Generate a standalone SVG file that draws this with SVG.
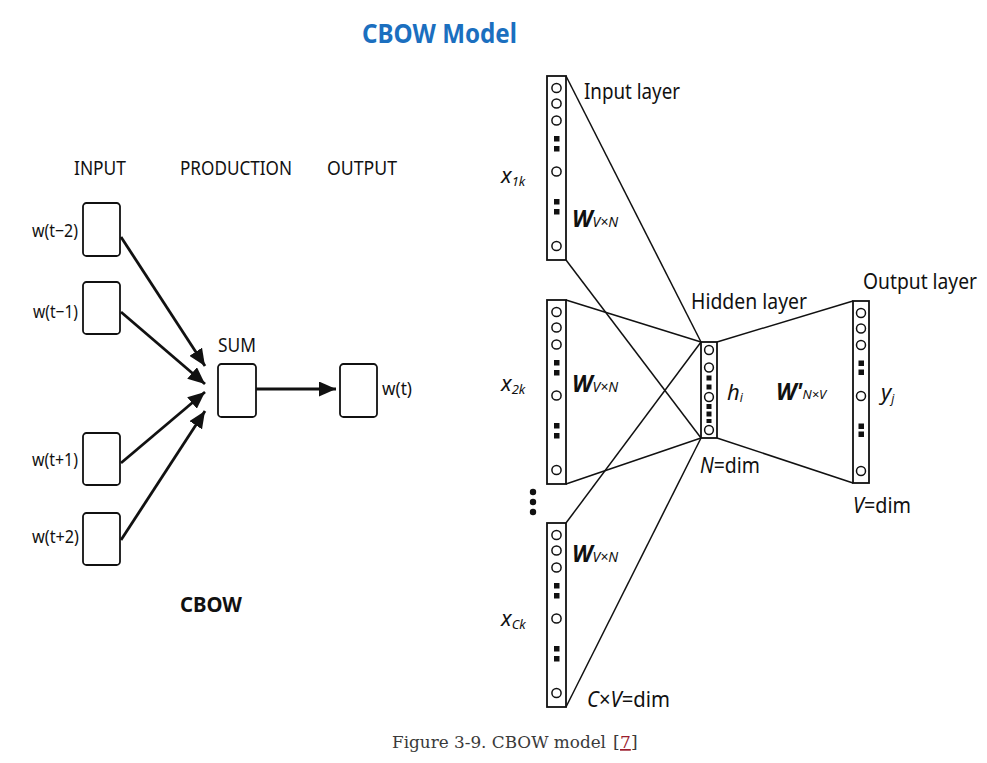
<svg xmlns="http://www.w3.org/2000/svg" width="987" height="763" viewBox="0 0 987 763">
<defs>
<style>
.t{font-family:"Noto Sans","Open Sans","DejaVu Sans",sans-serif;fill:#111}
.box{fill:#fff;stroke:#111;stroke-width:1.8}
.col{fill:#fff;stroke:#111;stroke-width:1.8}
.cir{fill:#fff;stroke:#111;stroke-width:1.5}
.sq{fill:#111}
.arr{stroke:#111;stroke-width:2.8;fill:none;marker-end:url(#ah)}
.ln{stroke:#111;stroke-width:1.5;fill:none}
.it{font-style:italic}
.cap{font-family:"DejaVu Serif","Liberation Serif",serif;font-size:17px;fill:#3a3a3a}
</style>
<marker id="ah" markerUnits="userSpaceOnUse" markerWidth="17" markerHeight="15" refX="17" refY="7.5" orient="auto">
<path d="M0,0 L17,7.5 L0,15 z" fill="#111"/>
</marker>
<g id="column">
<rect class="col" x="0" y="0" width="19" height="184"/>
<circle class="cir" cx="9.5" cy="12" r="4.6"/>
<circle class="cir" cx="9.5" cy="27.5" r="4.6"/>
<circle class="cir" cx="9.5" cy="44.5" r="4.6"/>
<rect class="sq" x="7" y="60" width="5.5" height="5.5"/>
<rect class="sq" x="7" y="70" width="5.5" height="5.5"/>
<circle class="cir" cx="9.5" cy="95.5" r="4.6"/>
<rect class="sq" x="7" y="123" width="5.5" height="5.5"/>
<rect class="sq" x="7" y="133" width="5.5" height="5.5"/>
<circle class="cir" cx="9.5" cy="170" r="4.6"/>
</g>
</defs>
<rect width="987" height="763" fill="#fff"/>

<text x="362" y="43" textLength="155" lengthAdjust="spacingAndGlyphs" style="font-family:'Noto Sans','Open Sans',sans-serif;font-weight:bold;font-size:27px;fill:#1b6fbf">CBOW Model</text>

<g id="left-headers">
<text class="t" x="74" y="175" textLength="52" lengthAdjust="spacingAndGlyphs" font-size="20">INPUT</text>
<text class="t" x="180" y="175" textLength="112" lengthAdjust="spacingAndGlyphs" font-size="20">PRODUCTION</text>
<text class="t" x="327" y="175" textLength="70" lengthAdjust="spacingAndGlyphs" font-size="20">OUTPUT</text>
</g>

<g id="connectors">
<line class="arr" x1="121" y1="237" x2="205" y2="366"/>
<line class="arr" x1="121" y1="312" x2="205" y2="384"/>
<line class="arr" x1="121" y1="463" x2="205" y2="392"/>
<line class="arr" x1="121" y1="540" x2="205" y2="411"/>
<line class="arr" x1="256" y1="389" x2="336" y2="389"/>
<line class="ln" x1="566" y1="76" x2="701" y2="342"/>
<line class="ln" x1="566" y1="260" x2="701" y2="438"/>
<line class="ln" x1="566" y1="300" x2="701" y2="342"/>
<line class="ln" x1="566" y1="484" x2="701" y2="438"/>
<line class="ln" x1="566" y1="523" x2="701" y2="342"/>
<line class="ln" x1="566" y1="707" x2="701" y2="438"/>
<line class="ln" x1="717" y1="342" x2="853" y2="301"/>
<line class="ln" x1="717" y1="438" x2="853" y2="483"/>
</g>

<g id="w-t-2">
<rect class="box" x="83" y="203" width="37" height="53" rx="3.5"/>
<text class="t" x="32" y="237" textLength="46" lengthAdjust="spacingAndGlyphs" font-size="18">w(t−2)</text>
</g>
<g id="w-t-1">
<rect class="box" x="83" y="282" width="37" height="52" rx="3.5"/>
<text class="t" x="33" y="318" textLength="45" lengthAdjust="spacingAndGlyphs" font-size="18">w(t−1)</text>
</g>
<g id="w-t+1">
<rect class="box" x="83" y="433" width="37" height="52" rx="3.5"/>
<text class="t" x="32" y="466" textLength="46" lengthAdjust="spacingAndGlyphs" font-size="18">w(t+1)</text>
</g>
<g id="w-t+2">
<rect class="box" x="83" y="513" width="37" height="52" rx="3.5"/>
<text class="t" x="32" y="543" textLength="47" lengthAdjust="spacingAndGlyphs" font-size="18">w(t+2)</text>
</g>
<g id="sum">
<rect class="box" x="218" y="364" width="38" height="53" rx="3.5"/>
<text class="t" x="218" y="352" textLength="38" lengthAdjust="spacingAndGlyphs" font-size="20">SUM</text>
</g>
<g id="w-t">
<rect class="box" x="340" y="364" width="37" height="53" rx="3.5"/>
<text class="t" x="382" y="395" textLength="30" lengthAdjust="spacingAndGlyphs" font-size="18">w(t)</text>
</g>
<text id="cbow-label" x="180" y="612" textLength="62" lengthAdjust="spacingAndGlyphs" style="font-family:'Noto Sans','Open Sans',sans-serif;font-weight:bold;font-size:21px;fill:#111">CBOW</text>

<g id="input-1">
<use href="#column" x="547" y="76"/>
<text class="t" x="584" y="99" textLength="96" lengthAdjust="spacingAndGlyphs" font-size="21">Input layer</text>
<text class="t it" x="501" y="183" font-size="22">x<tspan font-size="13" dy="3">1k</tspan></text>
<text class="t it" x="572" y="227" font-size="23" font-weight="bold">W<tspan font-size="14" font-weight="normal">V×N</tspan></text>
</g>
<g id="input-2">
<use href="#column" x="547" y="300"/>
<text class="t it" x="501" y="391" font-size="22">x<tspan font-size="13" dy="3">2k</tspan></text>
<text class="t it" x="572" y="392" font-size="23" font-weight="bold">W<tspan font-size="14" font-weight="normal">V×N</tspan></text>
</g>
<g id="ellipsis">
<circle cx="533" cy="492" r="3.2" fill="#111"/>
<circle cx="533" cy="502" r="3.2" fill="#111"/>
<circle cx="533" cy="512" r="3.2" fill="#111"/>
</g>
<g id="input-c">
<use href="#column" x="547" y="523"/>
<text class="t it" x="501" y="626" font-size="22">x<tspan font-size="13" dy="3">Ck</tspan></text>
<text class="t it" x="572" y="562" font-size="23" font-weight="bold">W<tspan font-size="14" font-weight="normal">V×N</tspan></text>
<text class="t" x="587" y="707" textLength="83" lengthAdjust="spacingAndGlyphs" font-size="22"><tspan class="it">C</tspan>×<tspan class="it">V</tspan>=dim</text>
</g>

<g id="hidden">
<rect class="col" x="701" y="342" width="16" height="96"/>
<circle class="cir" cx="709" cy="350" r="4.4"/>
<circle class="cir" cx="709" cy="367.5" r="4.4"/>
<rect class="sq" x="706.5" y="375.5" width="5" height="5"/>
<rect class="sq" x="706.5" y="384.5" width="5" height="5"/>
<circle class="cir" cx="709" cy="397" r="4.4"/>
<rect class="sq" x="706.5" y="404" width="5" height="5"/>
<rect class="sq" x="706.5" y="411.5" width="5" height="5"/>
<rect class="sq" x="706.5" y="419" width="5" height="4"/>
<circle class="cir" cx="709" cy="430" r="4.4"/>
<text class="t" x="691" y="309" textLength="116" lengthAdjust="spacingAndGlyphs" font-size="21">Hidden layer</text>
<text class="t it" x="727" y="400" font-size="22">h<tspan font-size="12" dy="2">i</tspan></text>
<text class="t" x="700" y="473" textLength="60" lengthAdjust="spacingAndGlyphs" font-size="22"><tspan class="it">N</tspan>=dim</text>
</g>
<text id="w-prime" class="t it" x="776" y="400" font-size="23" font-weight="bold">W'<tspan font-size="13" font-weight="normal" dy="-1">N×V</tspan></text>

<g id="output">
<rect class="col" x="853" y="301" width="16" height="182"/>
<circle class="cir" cx="861" cy="313" r="4.5"/>
<circle class="cir" cx="861" cy="328.5" r="4.5"/>
<circle class="cir" cx="861" cy="345" r="4.5"/>
<rect class="sq" x="858.5" y="360.5" width="5.5" height="5.5"/>
<rect class="sq" x="858.5" y="369.5" width="5.5" height="5.5"/>
<circle class="cir" cx="861" cy="396" r="4.5"/>
<rect class="sq" x="858.5" y="423.5" width="5.5" height="5.5"/>
<rect class="sq" x="858.5" y="431.5" width="5.5" height="5.5"/>
<circle class="cir" cx="861" cy="471" r="4.5"/>
<text class="t" x="863" y="289" textLength="114" lengthAdjust="spacingAndGlyphs" font-size="21">Output layer</text>
<text class="t it" x="881" y="400" font-size="22">y<tspan font-size="12" dy="3">j</tspan></text>
<text class="t" x="853" y="513" textLength="58" lengthAdjust="spacingAndGlyphs" font-size="22"><tspan class="it">V</tspan>=dim</text>
</g>

<g id="caption">
<text class="cap" x="392" y="748" textLength="214" lengthAdjust="spacingAndGlyphs">Figure 3-9. CBOW model</text>
<text class="cap" x="613" y="748">[</text>
<text class="cap" x="620" y="748" style="fill:#9b1c2c" text-decoration="underline">7</text>
<text class="cap" x="631" y="748">]</text>
</g>
</svg>
